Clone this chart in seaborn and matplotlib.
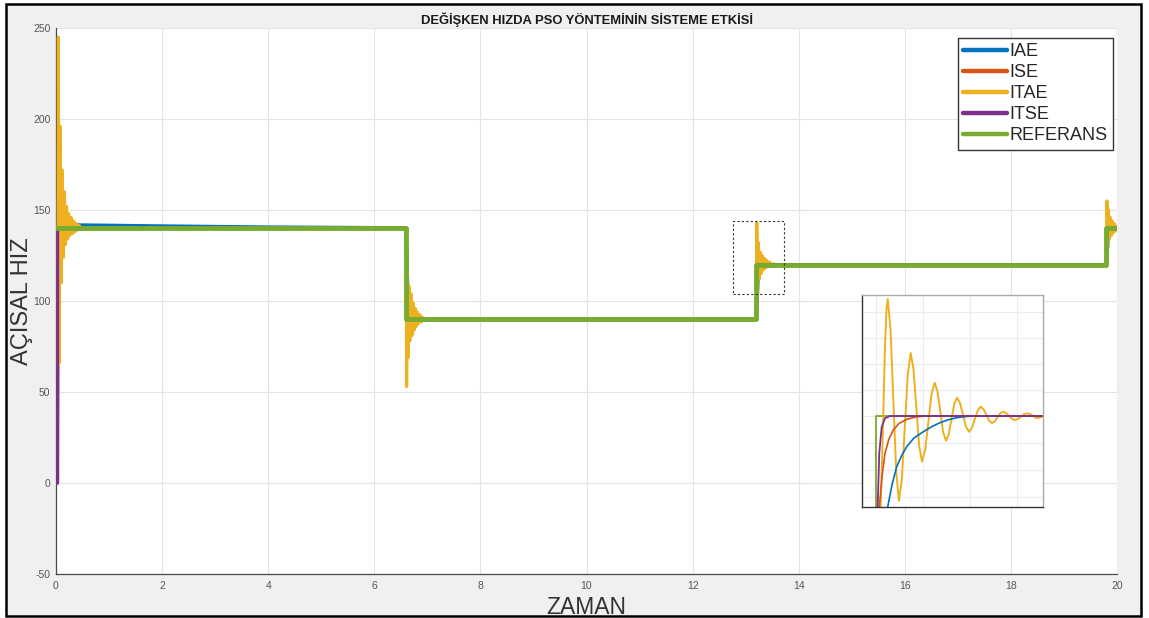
import matplotlib
matplotlib.use("Agg")
import numpy as np
import matplotlib.pyplot as plt
from matplotlib.patches import Rectangle
import seaborn as sns

# ---- main chart data (time [s], angular speed) ----
ref_t = [0, 6.6, 6.6, 13.2, 13.2, 19.8, 19.8, 20]
ref_y = [140, 140, 90, 90, 120, 120, 140, 140]

iae_t = [0.03, 0.04, 2, 4, 6.6, 6.65, 13.2, 13.25, 19.8, 19.85, 20]
iae_y = [0, 142, 141.3, 140.7, 140.3, 90, 90, 120, 120, 140, 140]

ise_t = [0.03, 0.036, 6.6, 6.62, 13.2, 13.22, 19.8, 19.82, 20]
ise_y = [0, 140, 140, 90, 90, 120, 120, 140, 140]

itse_t = [0.03, 0.032, 6.6, 6.61, 13.2, 13.21, 19.8, 19.81, 20]
itse_y = [0, 140, 140, 90, 90, 120, 120, 140, 140]

# ITAE oscillates hard after every step change (peaks)
itae_t1 = [0.035, 0.045, 0.06, 0.08, 0.1, 0.12, 0.14, 0.16, 0.18, 0.2, 0.22,
           0.24, 0.26, 0.285, 0.31, 0.335, 0.36, 0.385, 0.41, 0.44, 0.47, 0.51, 0.56]
itae_y1 = [60, 245, 66, 196, 110, 172, 124, 160, 131, 152, 134,
           148, 136, 146, 137, 144, 138, 142.5, 139, 141.5, 139.5, 140.5, 140]
itae_t2 = [6.6, 6.61, 6.625, 6.64, 6.655, 6.67, 6.69, 6.71, 6.73, 6.75, 6.77,
           6.79, 6.81, 6.83, 6.86, 6.89, 6.92, 6.96, 7.0]
itae_y2 = [140, 53, 117, 69, 108, 78, 104, 81, 99, 84, 96,
           86, 94, 87.5, 92.5, 88.5, 91, 89.5, 90]
itae_t3 = [13.2, 13.21, 13.225, 13.24, 13.255, 13.27, 13.29, 13.31, 13.33, 13.35,
           13.37, 13.39, 13.42, 13.45, 13.48, 13.52, 13.56]
itae_y3 = [90, 143, 104, 132, 112, 127, 115, 125, 117, 123.5,
           118, 122.5, 118.8, 121.5, 119.3, 120.5, 120]
itae_t4 = [19.8, 19.81, 19.825, 19.84, 19.855, 19.87, 19.89, 19.91, 19.93, 19.95, 19.97, 20.0]
itae_y4 = [120, 155, 130, 150, 134, 146, 136, 144, 137.5, 142.5, 138.5, 141]

zoom_box = [12.77, 13.72, 104, 144]  # t0, t1, y0, y1 of dotted box

# ---- inset (zoomed step response, arbitrary units) ----
in_ref_x = [14, 14, 181]
in_ref_y = [-10, 91, 91]
in_itse_x = [15.2, 15.7, 17.3, 19.7, 23, 28, 181]
in_itse_y = [-10, 0, 54, 80, 88.7, 91, 91]
in_ise_x = [16.8, 17.3, 20, 23, 27, 31.3, 37, 44.7, 54.7, 65, 181]
in_ise_y = [-10, 0, 30, 53.7, 68, 77, 83.5, 87.7, 90.3, 91, 91]
in_iae_x = [24.5, 25.7, 30, 34.7, 40, 44.7, 52, 61.3, 70, 78, 86, 94.7, 104, 111.3, 181]
in_iae_y = [-10, 0, 22, 40.3, 52, 60.3, 69, 75.3, 80.5, 84.3, 87.2, 89.3, 90.5, 91, 91]
in_itae_x = [17.8, 18.7, 21, 23, 24.5, 25.7,
             28.5, 31.35, 34.2, 37,
             39.9, 42.85, 45.8, 48.7,
             51.5, 54.35, 57.2, 60,
             63.2, 66.35, 69.5, 72.7,
             75.5, 78.35, 81.2, 84,
             86.75, 89.5, 92.25, 95,
             98, 101, 104, 107,
             109.9, 112.85, 115.8, 118.7,
             121.5, 124.35, 127.2, 130,
             132.75, 135.5, 138.25, 141,
             144, 147, 150, 153,
             156, 159, 162, 165,
             168, 170.5, 173, 176, 181]
in_itae_y = [-10, 0, 80, 160, 198, 208,
             178.6, 107.2, 35.7, 6.3,
             27.9, 80.2, 132.4, 154,
             138.1, 99.7, 61.2, 45.3,
             56.8, 84.8, 112.8, 124.3,
             115.8, 95.3, 74.8, 66.3,
             72.6, 87.8, 103, 109.3,
             104.3, 92.3, 80.3, 75.3,
             79, 87.8, 96.6, 100.3,
             97.9, 92.2, 86.4, 84,
             85.6, 89.7, 93.7, 95.3,
             94.1, 91.2, 88.2, 87,
             88, 90.4, 92.7, 93.7,
             93, 91.4, 89.7, 89, 90.5]
in_grid_x = [14, 61, 108, 155]
in_grid_y = [10, 37, 64, 91, 117, 143, 169, 195]

colors = {"IAE": "#0072BD", "ISE": "#D95319", "ITAE": "#EDB120",
          "ITSE": "#7E2F8E", "REFERANS": "#77AC30"}

sns.set_style("white")
plt.rcParams["font.family"] = ["Liberation Sans", "DejaVu Sans"]
plt.rcParams["axes.unicode_minus"] = False

fig = plt.figure(figsize=(11.49, 6.18), dpi=100)
fig.patch.set_facecolor("white")
fig.patches.append(Rectangle((0.005, 0.003), 0.988, 0.991, transform=fig.transFigure,
                             facecolor="#f0f0f0", edgecolor="black", lw=1.8, zorder=-10))

ax = fig.add_axes([0.0487, 0.0712, 0.9235, 0.8835])
ax.set_facecolor("white")

itae_t = itae_t1 + itae_t2 + itae_t3 + itae_t4
itae_y = itae_y1 + itae_y2 + itae_y3 + itae_y4
series = [("IAE", iae_t, iae_y, 2.2), ("ISE", ise_t, ise_y, 2.2),
          ("ITAE", itae_t, itae_y, 2.2), ("ITSE", itse_t, itse_y, 2.2),
          ("REFERANS", ref_t, ref_y, 3.5)]
for name, t, y, lw in series:
    sns.lineplot(x=t, y=y, sort=False, estimator=None, color=colors[name],
                 lw=lw, label=name, ax=ax)

ax.add_patch(Rectangle((zoom_box[0], zoom_box[2]), zoom_box[1] - zoom_box[0],
                       zoom_box[3] - zoom_box[2], fill=False, ec="#333333",
                       lw=0.8, ls=(0, (2, 2)), zorder=5))

ax.set_xlim(0, 20)
ax.set_ylim(-50, 250)
ax.set_xticks(np.arange(0, 21, 2))
ax.set_yticks(np.arange(-50, 251, 50))
ax.grid(True, color="#e3e3e3", lw=0.8)
for s in ["top", "right"]:
    ax.spines[s].set_visible(False)
for s in ["left", "bottom"]:
    ax.spines[s].set_color("#4a4a4a")
    ax.spines[s].set_linewidth(0.9)
    ax.spines[s].set_zorder(1.5)
ax.tick_params(direction="in", length=6, width=0.9, color="#4a4a4a",
               labelsize=7.5, labelcolor="#555555", pad=5)
ax.tick_params(axis="y", pad=4)

ax.set_title("DEĞİŞKEN HIZDA PSO YÖNTEMİNİN SİSTEME ETKİSİ", fontsize=9.4,
             fontweight="bold", color="#1a1a1a", pad=3)
ax.set_xlabel("ZAMAN", fontsize=16.5, color="#333333")
ax.set_ylabel("AÇISAL HIZ", fontsize=17, color="#333333")
ax.xaxis.set_label_coords(0.5, -0.04)
ax.yaxis.set_label_coords(-0.022, 0.5)

leg = ax.legend(loc="upper right", bbox_to_anchor=(0.9962, 0.9817), borderaxespad=0,
                fontsize=13, handlelength=2.4, handletextpad=0.15, labelspacing=0.22,
                borderpad=0.3, fancybox=False, framealpha=1, edgecolor="#333333")
leg.get_frame().set_linewidth(1.0)
for h in leg.get_lines():
    h.set_linewidth(3.2)

# inset
ins = fig.add_axes([0.7502, 0.1796, 0.1575, 0.343])
ins.set_facecolor("white")
inset_series = [(in_ref_x, in_ref_y, "REFERANS", 1.3), (in_itae_x, in_itae_y, "ITAE", 1.4),
                (in_iae_x, in_iae_y, "IAE", 1.2), (in_ise_x, in_ise_y, "ISE", 1.2),
                (in_itse_x, in_itse_y, "ITSE", 1.3)]
for x, y, name, lw in inset_series:
    sns.lineplot(x=x, y=y, sort=False, estimator=None, color=colors[name],
                 lw=lw, legend=False, ax=ins)
ins.set_xlim(0, 181)
ins.set_ylim(0, 212)
ins.set_xticks(in_grid_x)
ins.set_yticks(in_grid_y)
ins.set_xticklabels([])
ins.set_yticklabels([])
ins.tick_params(length=0)
ins.grid(True, color="#ececec", lw=0.8)
for s in ["left", "bottom"]:
    ins.spines[s].set_color("#333333")
    ins.spines[s].set_linewidth(1.0)
for s in ["top", "right"]:
    ins.spines[s].set_color("#aaaaaa")
    ins.spines[s].set_linewidth(1.0)
ins.set_xlabel("")
ins.set_ylabel("")

fig.savefig("out.png", dpi=100)
